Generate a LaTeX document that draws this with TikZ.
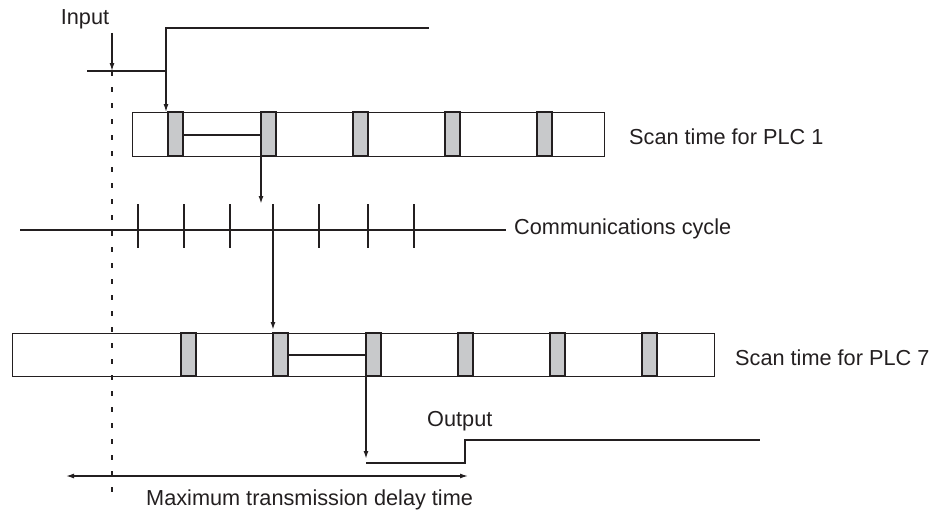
\documentclass[tikz,border=0pt]{standalone}
\usepackage{fontspec}
\setmainfont{Liberation Sans}
\usetikzlibrary{arrows.meta}
\definecolor{ink}{HTML}{231F20}
\definecolor{slotgray}{HTML}{C8C9CB}

\begin{document}
\begin{tikzpicture}[x=1pt, y=-1pt,
        every node/.style={inner sep=0pt, text=ink, font=\fontsize{21.7}{26}\selectfont},
        box/.style={draw=ink, line width=1.3pt},
        slot/.style={draw=ink, fill=slotgray, line width=1.3pt},
        wire/.style={draw=ink, line width=1.3pt},
        xfer/.style={draw=ink, line width=2.7pt},
        tip/.style={-{Latex[length=8pt,width=5pt]}}]
        \useasboundingbox (0,0) rectangle (941,511);
        \def\sw{15}

        % input signal
        \node[anchor=base] (inlbl) at (85,25) {Input};
        \coordinate (t0) at (112,71);
        \coordinate (rise) at (166,71);
        \draw[wire, tip] (112,33) -- (t0);
        \draw[wire] (87,71) -- (rise) -- (166,28) -- (429,28);
        \draw[draw=ink, line width=1.3pt, dash pattern=on 5pt off 11pt] (t0) -- (112,493);

        % scan of PLC 1
        \node[box, anchor=north west, minimum width=472pt, minimum height=44pt] (plc1) at (132,112) {};
        \foreach \s in {168,261,353,445,537}
            \draw[slot] (\s,112) rectangle ++(\sw,44);
        \draw[xfer] (183,135) -- (261,135);
        \draw[wire, tip] (rise) -- (rise |- plc1.north);
        \node[anchor=base west] (lbl1) at (629,144) {Scan time for PLC 1};

        % communications cycle
        \coordinate (send1) at (261,156);
        \draw[xfer, tip] (send1) -- (261,204);
        \draw[wire] (20,230) -- (506,230) coordinate (ccend);
        \foreach \t in {138,184,230,273,319,368,414}
            \draw[wire] (\t,204) -- (\t,248);
        \node[anchor=base west] (cclbl) at (514,234) {Communications cycle};

        % scan of PLC 7
        \node[box, anchor=north west, minimum width=702pt, minimum height=43pt] (plc7) at (12,333) {};
        \foreach \s in {181,273,366,458,550,642}
            \draw[slot] (\s,333) rectangle ++(\sw,43);
        \draw[xfer] (289,355) -- (366,355);
        \coordinate (tick4) at (273,248);
        \draw[xfer, tip] (tick4) -- (273,330);
        \node[anchor=base west] (lbl7) at (735,365) {Scan time for PLC 7};

        % output signal
        \coordinate (send7) at (366,376);
        \coordinate (out0) at (366,463);
        \coordinate (outrise) at (465,463);
        \draw[xfer, tip] (send7) -- (366,459);
        \draw[wire] (out0) -- (outrise) -- (465,440) -- (760,440);
        \node[anchor=base west] (outlbl) at (427,426) {Output};

        % delay
        \draw[wire, {Latex[length=8pt,width=5pt]}-{Latex[length=8pt,width=5pt]}] (66,476) -- (468,476);
        \node[anchor=base west] (dlbl) at (146,505) {Maximum transmission delay time};
    \end{tikzpicture}
\end{document}
